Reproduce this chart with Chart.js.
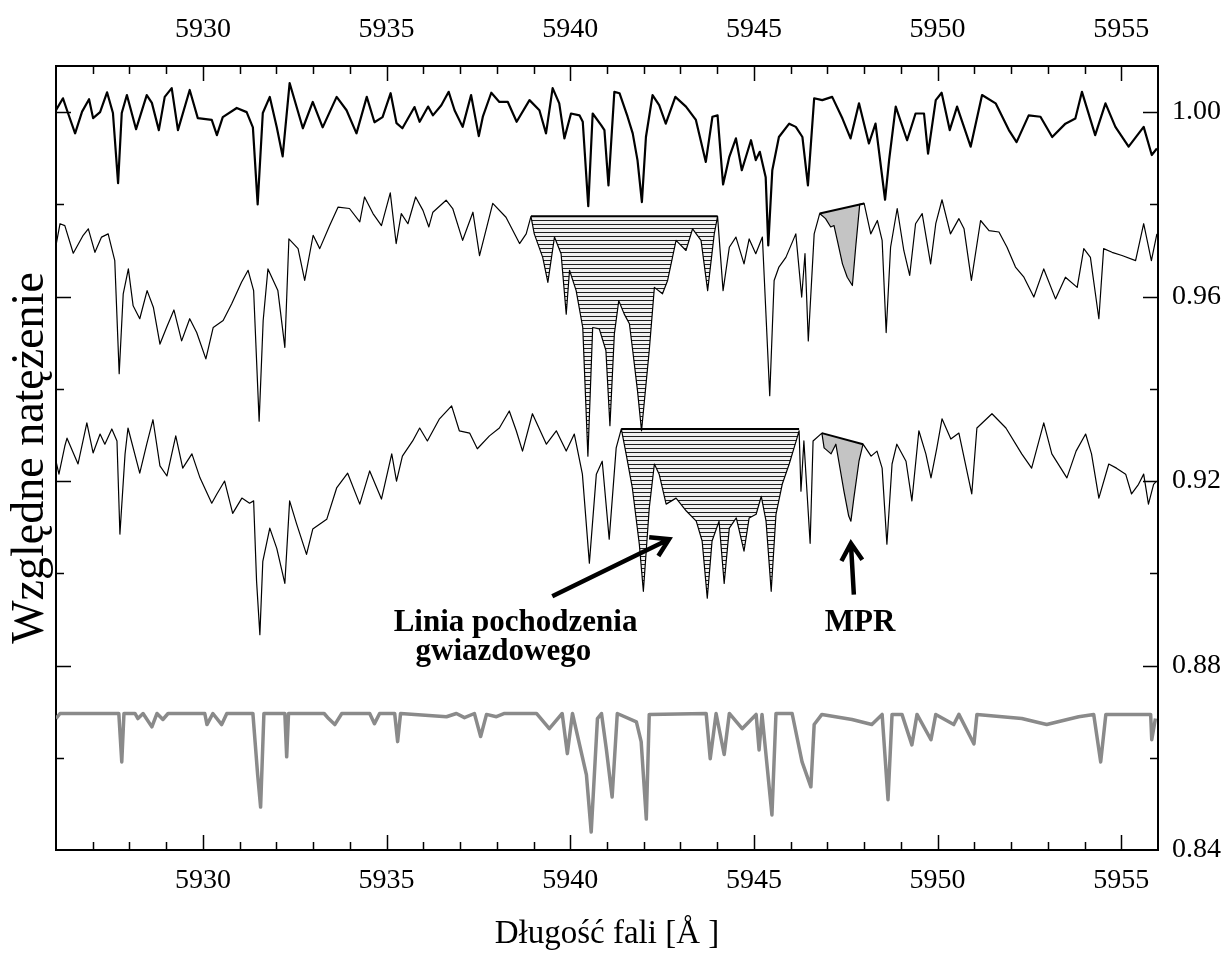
<!DOCTYPE html>
<html>
<head>
<meta charset="utf-8">
<script src="https://cdn.jsdelivr.net/npm/chart.js@4.4.1/dist/chart.umd.min.js"></script>
<style>
  html, body { margin: 0; padding: 0; background: #fff; }
  #wrap { width: 1230px; height: 956px; }
</style>
</head>
<body>
<div id="wrap"><canvas id="widmo" width="1230" height="956"></canvas></div>
<script>
const X_MIN = 5926;
const X_MAX = 5956;
const Y_MIN = 0.84;
const Y_MAX = 1.01;
const X_LABELS = [5930, 5935, 5940, 5945, 5950, 5955];
const Y_LABELS = [0.84, 0.88, 0.92, 0.96, 1.00];

// widmo gorne (gruba linia)
const topWave = [5926.00, 5926.19, 5926.30, 5926.52, 5926.71, 5926.90, 5927.01, 5927.20, 5927.39, 5927.55,
    5927.69, 5927.79, 5927.93, 5928.18, 5928.47, 5928.61, 5928.80, 5928.96, 5929.15, 5929.32,
    5929.64, 5929.86, 5930.24, 5930.38, 5930.54, 5930.92, 5931.19, 5931.36, 5931.49, 5931.63,
    5931.82, 5932.01, 5932.17, 5932.36, 5932.72, 5932.99, 5933.26, 5933.64, 5933.91, 5934.18,
    5934.46, 5934.67, 5934.89, 5935.11, 5935.27, 5935.43, 5935.76, 5935.90, 5936.13, 5936.26,
    5936.49, 5936.69, 5936.85, 5937.07, 5937.30, 5937.51, 5937.62, 5937.85, 5938.07, 5938.30,
    5938.54, 5938.89, 5939.16, 5939.34, 5939.52, 5939.70, 5939.84, 5940.02, 5940.25, 5940.34,
    5940.49, 5940.61, 5940.84, 5940.93, 5941.04, 5941.20, 5941.34, 5941.56, 5941.70, 5941.83,
    5941.95, 5942.06, 5942.24, 5942.42, 5942.60, 5942.86, 5943.15, 5943.42, 5943.69, 5943.87,
    5944.01, 5944.16, 5944.33, 5944.51, 5944.67, 5944.92, 5945.05, 5945.16, 5945.32, 5945.39,
    5945.50, 5945.68, 5945.96, 5946.14, 5946.32, 5946.47, 5946.64, 5946.86, 5947.13, 5947.41,
    5947.63, 5947.86, 5948.13, 5948.31, 5948.57, 5948.68, 5948.86, 5949.17, 5949.40, 5949.63,
    5949.74, 5949.95, 5950.11, 5950.33, 5950.53, 5950.90, 5951.21, 5951.58, 5951.94, 5952.15,
    5952.48, 5952.80, 5953.12, 5953.48, 5953.75, 5953.93, 5954.29, 5954.57, 5954.84, 5955.20,
    5955.61, 5955.83, 5955.97];
const topFlux = [1.0004, 1.0030, 1.0004, 0.9954, 1.0001, 1.0028, 0.9987, 1.0000, 1.0043, 0.9998,
    0.9846, 0.9998, 1.0037, 0.9963, 1.0037, 1.0020, 0.9961, 1.0033, 1.0052, 0.9961,
    1.0048, 0.9987, 0.9983, 0.9950, 0.9989, 1.0009, 1.0000, 0.9967, 0.9800, 0.9998,
    1.0033, 0.9967, 0.9904, 1.0063, 0.9965, 1.0022, 0.9967, 1.0033, 1.0004, 0.9954,
    1.0033, 0.9978, 0.9989, 1.0041, 0.9976, 0.9965, 1.0011, 0.9979, 1.0012, 0.9993,
    1.0015, 1.0044, 1.0004, 0.9968, 1.0037, 0.9948, 0.9990, 1.0042, 1.0022, 1.0022,
    0.9979, 1.0026, 1.0004, 0.9954, 1.0052, 1.0019, 0.9943, 0.9997, 0.9993, 0.9979,
    0.9796, 0.9997, 0.9972, 0.9961, 0.9841, 1.0044, 1.0041, 0.9990, 0.9954, 0.9896,
    0.9805, 0.9946, 1.0037, 1.0015, 0.9975, 1.0033, 1.0012, 0.9983, 0.9892, 0.9990,
    0.9993, 0.9843, 0.9903, 0.9943, 0.9874, 0.9939, 0.9896, 0.9914, 0.9859, 0.9711,
    0.9874, 0.9946, 0.9975, 0.9968, 0.9946, 0.9841, 1.0030, 1.0026, 1.0033, 0.9986,
    0.9943, 1.0019, 0.9932, 0.9975, 0.9810, 0.9896, 1.0012, 0.9939, 0.9997, 0.9997,
    0.9910, 1.0026, 1.0042, 0.9961, 1.0012, 0.9925, 1.0037, 1.0019, 0.9961, 0.9935,
    0.9993, 0.9990, 0.9946, 0.9975, 0.9986, 1.0044, 0.9950, 1.0019, 0.9968, 0.9925,
    0.9968, 0.9907, 0.9921];

// widmo srodkowe
const midWave = [5926.00, 5926.11, 5926.24, 5926.47, 5926.74, 5926.88, 5927.06, 5927.24, 5927.42, 5927.60,
    5927.72, 5927.83, 5927.97, 5928.10, 5928.28, 5928.48, 5928.65, 5928.83, 5929.01, 5929.21,
    5929.42, 5929.64, 5929.83, 5930.08, 5930.28, 5930.55, 5930.78, 5931.05, 5931.23, 5931.38,
    5931.53, 5931.64, 5931.77, 5932.04, 5932.23, 5932.34, 5932.59, 5932.77, 5933.00, 5933.18,
    5933.45, 5933.68, 5933.99, 5934.27, 5934.40, 5934.63, 5934.86, 5935.10, 5935.26, 5935.40,
    5935.58, 5935.79, 5935.99, 5936.15, 5936.26, 5936.62, 5936.80, 5937.07, 5937.35, 5937.53,
    5937.89, 5938.25, 5938.62, 5938.80, 5938.93, 5939.02, 5939.25, 5939.39, 5939.57, 5939.75,
    5939.89, 5939.98, 5940.16, 5940.34, 5940.48, 5940.61, 5940.79, 5940.97, 5941.08, 5941.20,
    5941.32, 5941.47, 5941.61, 5941.70, 5941.83, 5941.94, 5942.15, 5942.29, 5942.51, 5942.65,
    5942.88, 5943.15, 5943.33, 5943.56, 5943.74, 5943.92, 5944.01, 5944.16, 5944.33, 5944.51,
    5944.73, 5944.87, 5945.05, 5945.23, 5945.43, 5945.55, 5945.68, 5945.87, 5946.14, 5946.30,
    5946.39, 5946.48, 5946.64, 5946.79, 5946.95, 5947.09, 5947.18, 5947.27, 5947.41, 5947.54,
    5947.68, 5947.77, 5947.88, 5948.00, 5948.18, 5948.36, 5948.49, 5948.60, 5948.72, 5948.90,
    5949.08, 5949.24, 5949.40, 5949.58, 5949.81, 5949.95, 5950.12, 5950.35, 5950.58, 5950.72,
    5950.92, 5951.17, 5951.40, 5951.67, 5951.89, 5952.12, 5952.35, 5952.62, 5952.89, 5953.21,
    5953.48, 5953.80, 5953.98, 5954.16, 5954.39, 5954.52, 5954.75, 5955.02, 5955.39, 5955.61,
    5955.82, 5955.97];
const midFlux = [0.9711, 0.9758, 0.9754, 0.9694, 0.9733, 0.9747, 0.9696, 0.9729, 0.9736, 0.9678,
    0.9433, 0.9606, 0.9660, 0.9580, 0.9552, 0.9613, 0.9577, 0.9497, 0.9533, 0.9571,
    0.9504, 0.9552, 0.9522, 0.9465, 0.9533, 0.9548, 0.9584, 0.9631, 0.9657, 0.9613,
    0.9330, 0.9548, 0.9660, 0.9613, 0.9490, 0.9725, 0.9704, 0.9635, 0.9733, 0.9704,
    0.9754, 0.9794, 0.9791, 0.9762, 0.9816, 0.9780, 0.9754, 0.9825, 0.9715, 0.9780,
    0.9758, 0.9816, 0.9787, 0.9751, 0.9783, 0.9809, 0.9791, 0.9722, 0.9783, 0.9689,
    0.9802, 0.9772, 0.9715, 0.9736, 0.9774, 0.9736, 0.9685, 0.9631, 0.9729, 0.9693,
    0.9562, 0.9657, 0.9613, 0.9533, 0.9254, 0.9533, 0.9530, 0.9483, 0.9320, 0.9519,
    0.9591, 0.9562, 0.9541, 0.9483, 0.9396, 0.9309, 0.9483, 0.9620, 0.9606, 0.9635,
    0.9722, 0.9700, 0.9747, 0.9722, 0.9613, 0.9736, 0.9774, 0.9613, 0.9707, 0.9729,
    0.9671, 0.9725, 0.9693, 0.9729, 0.9385, 0.9635, 0.9664, 0.9685, 0.9736, 0.9599,
    0.9693, 0.9504, 0.9736, 0.9780, 0.9769, 0.9751, 0.9754, 0.9722, 0.9671, 0.9642,
    0.9624, 0.9707, 0.9800, 0.9802, 0.9736, 0.9765, 0.9722, 0.9522, 0.9707, 0.9791,
    0.9700, 0.9646, 0.9758, 0.9780, 0.9671, 0.9758, 0.9810, 0.9736, 0.9769, 0.9747,
    0.9635, 0.9765, 0.9743, 0.9740, 0.9707, 0.9664, 0.9642, 0.9599, 0.9660, 0.9595,
    0.9642, 0.9620, 0.9704, 0.9685, 0.9552, 0.9704, 0.9696, 0.9689, 0.9678, 0.9758,
    0.9678, 0.9736];

// widmo dolne
const lowWave = [5926.00, 5926.08, 5926.24, 5926.30, 5926.60, 5926.84, 5927.01, 5927.20, 5927.33, 5927.52,
    5927.66, 5927.74, 5927.88, 5927.96, 5928.28, 5928.47, 5928.64, 5928.83, 5929.02, 5929.26,
    5929.45, 5929.70, 5929.92, 5930.24, 5930.38, 5930.59, 5930.81, 5931.06, 5931.27, 5931.38,
    5931.46, 5931.55, 5931.63, 5931.82, 5932.01, 5932.23, 5932.36, 5932.55, 5932.82, 5932.99,
    5933.37, 5933.64, 5933.94, 5934.27, 5934.54, 5934.86, 5935.14, 5935.27, 5935.43, 5935.71,
    5935.90, 5936.11, 5936.44, 5936.77, 5936.98, 5937.26, 5937.47, 5937.80, 5938.07, 5938.34,
    5938.53, 5938.70, 5938.97, 5939.35, 5939.62, 5939.89, 5940.11, 5940.33, 5940.52, 5940.71,
    5940.87, 5941.06, 5941.25, 5941.39, 5941.52, 5941.69, 5941.88, 5941.99, 5942.15, 5942.29,
    5942.42, 5942.61, 5942.88, 5943.16, 5943.43, 5943.59, 5943.73, 5943.86, 5944.05, 5944.19,
    5944.33, 5944.52, 5944.73, 5944.87, 5945.06, 5945.20, 5945.33, 5945.47, 5945.60, 5945.77,
    5945.96, 5946.15, 5946.23, 5946.28, 5946.36, 5946.53, 5946.61, 5946.85, 5946.91, 5947.10,
    5947.23, 5947.31, 5947.45, 5947.58, 5947.64, 5947.72, 5947.86, 5947.97, 5948.19, 5948.35,
    5948.49, 5948.62, 5948.76, 5948.89, 5949.14, 5949.30, 5949.49, 5949.68, 5949.82, 5949.98,
    5950.12, 5950.36, 5950.58, 5950.93, 5951.07, 5951.48, 5951.86, 5952.29, 5952.56, 5952.89,
    5953.11, 5953.52, 5953.77, 5954.03, 5954.19, 5954.39, 5954.66, 5954.87, 5955.12, 5955.28,
    5955.47, 5955.61, 5955.74, 5955.88, 5955.96];
const lowFlux = [0.9243, 0.9215, 0.9276, 0.9293, 0.9237, 0.9326, 0.9261, 0.9302, 0.9280, 0.9313,
    0.9287, 0.9085, 0.9259, 0.9315, 0.9217, 0.9280, 0.9333, 0.9233, 0.9211, 0.9298,
    0.9228, 0.9259, 0.9207, 0.9152, 0.9172, 0.9200, 0.9130, 0.9163, 0.9152, 0.9157,
    0.8983, 0.8867, 0.9026, 0.9098, 0.9054, 0.8978, 0.9157, 0.9107, 0.9041, 0.9096,
    0.9117, 0.9185, 0.9217, 0.9150, 0.9222, 0.9161, 0.9259, 0.9200, 0.9254, 0.9287,
    0.9315, 0.9287, 0.9335, 0.9363, 0.9309, 0.9304, 0.9270, 0.9298, 0.9315, 0.9352,
    0.9309, 0.9265, 0.9346, 0.9280, 0.9309, 0.9265, 0.9302, 0.9215, 0.9022, 0.9215,
    0.9243, 0.9074, 0.9272, 0.9313, 0.9259, 0.9185, 0.9063, 0.8961, 0.9141, 0.9237,
    0.9215, 0.9150, 0.9163, 0.9135, 0.9113, 0.9070, 0.8946, 0.9070, 0.9113, 0.8978,
    0.9098, 0.9120, 0.9048, 0.9120, 0.9128, 0.9167, 0.9113, 0.8961, 0.9128, 0.9193,
    0.9237, 0.9287, 0.9309, 0.9178, 0.9287, 0.9065, 0.9287, 0.9304, 0.9272, 0.9259,
    0.9280, 0.9243, 0.9178, 0.9124, 0.9113, 0.9163, 0.9243, 0.9280, 0.9254, 0.9265,
    0.9228, 0.9063, 0.9237, 0.9280, 0.9243, 0.9157, 0.9309, 0.9259, 0.9207, 0.9272,
    0.9335, 0.9291, 0.9304, 0.9172, 0.9315, 0.9346, 0.9315, 0.9259, 0.9228, 0.9326,
    0.9259, 0.9207, 0.9265, 0.9302, 0.9259, 0.9163, 0.9237, 0.9228, 0.9215, 0.9172,
    0.9193, 0.9215, 0.9150, 0.9193, 0.9200];

// widmo telluryczne (szare)
const telWave = [5926.00, 5926.11, 5927.71, 5927.79, 5927.85, 5928.15, 5928.23, 5928.37, 5928.61, 5928.75,
    5928.91, 5929.05, 5930.05, 5930.11, 5930.27, 5930.51, 5930.65, 5931.36, 5931.49, 5931.57,
    5931.66, 5932.23, 5932.28, 5932.33, 5933.30, 5933.42, 5933.59, 5933.78, 5934.54, 5934.67,
    5934.81, 5935.22, 5935.30, 5935.38, 5936.63, 5936.90, 5937.12, 5937.39, 5937.56, 5937.72,
    5937.99, 5938.21, 5939.08, 5939.43, 5939.78, 5939.92, 5940.06, 5940.44, 5940.57, 5940.74,
    5940.85, 5940.98, 5941.14, 5941.28, 5941.80, 5941.93, 5942.07, 5942.15, 5943.70, 5943.81,
    5943.97, 5944.19, 5944.33, 5944.68, 5945.06, 5945.14, 5945.22, 5945.49, 5945.60, 5946.04,
    5946.31, 5946.55, 5946.64, 5946.85, 5947.67, 5948.21, 5948.49, 5948.65, 5948.76, 5949.03,
    5949.30, 5949.44, 5949.82, 5949.95, 5950.44, 5950.58, 5950.99, 5951.07, 5952.29, 5952.97,
    5953.84, 5954.25, 5954.44, 5954.58, 5955.80, 5955.83, 5955.93];
const telFlux = [0.8685, 0.8696, 0.8696, 0.8591, 0.8696, 0.8696, 0.8685, 0.8696, 0.8667, 0.8696,
    0.8683, 0.8696, 0.8696, 0.8672, 0.8696, 0.8672, 0.8696, 0.8696, 0.8563, 0.8493,
    0.8696, 0.8696, 0.8602, 0.8696, 0.8696, 0.8685, 0.8672, 0.8696, 0.8696, 0.8674,
    0.8696, 0.8696, 0.8635, 0.8696, 0.8689, 0.8696, 0.8687, 0.8696, 0.8646, 0.8694,
    0.8689, 0.8696, 0.8696, 0.8663, 0.8696, 0.8609, 0.8696, 0.8563, 0.8439, 0.8685,
    0.8696, 0.8620, 0.8515, 0.8696, 0.8678, 0.8635, 0.8467, 0.8694, 0.8696, 0.8598,
    0.8696, 0.8607, 0.8696, 0.8663, 0.8694, 0.8617, 0.8694, 0.8476, 0.8696, 0.8696,
    0.8591, 0.8537, 0.8672, 0.8694, 0.8683, 0.8672, 0.8694, 0.8509, 0.8694, 0.8694,
    0.8628, 0.8694, 0.8639, 0.8694, 0.8672, 0.8694, 0.8630, 0.8694, 0.8685, 0.8672,
    0.8689, 0.8694, 0.8591, 0.8694, 0.8694, 0.8639, 0.8685];

// zakreskowane linie gwiazdowe i pasma MPR
const hatchMidRange = [5938.93, 5944.01];
const hatchMidLevel = 0.9774;
const hatchLowRange = [5941.39, 5946.23];
const hatchLowLevel = 0.9313;
const mprMidWave = [5946.79, 5948.00];
const mprMidLevel = [0.9780, 0.9802];
const mprLowWave = [5946.85, 5947.97];
const mprLowLevel = [0.9304, 0.9280];

// opisy i strzalki (wspolrzedne danych)
const starLabel = ["Linia pochodzenia", "gwiazdowego"];
const starLabelPos = [[5938.51, 0.8874], [5938.18, 0.8813]];
const starArrow = [[5939.51, 0.8950], [5942.69, 0.9074]];
const mprLabel = "MPR";
const mprLabelPos = [5947.89, 0.8874];
const mprArrow = [[5947.72, 0.8954], [5947.64, 0.9065]];

const SERIF = '"Liberation Serif", "Times New Roman", serif';

function points(wave, flux) {
    return wave.map((x, i) => ({ x, y: flux[i] }));
}

function slice(wave, flux, range) {
    return points(wave, flux).filter(p => p.x >= range[0] && p.x <= range[1]);
}

function hatchPattern(ctx) {
    const tile = document.createElement("canvas");
    tile.width = 8;
    tile.height = 4;
    const g = tile.getContext("2d");
    g.fillStyle = "#f0f0f0";
    g.fillRect(0, 0, 8, 4);
    g.fillStyle = "#1e1e1e";
    g.fillRect(0, 0, 8, 1);
    return ctx.createPattern(tile, "repeat");
}

const frameTicks = {
    id: "frameTicks",
    afterDatasetsDraw(chart) {
        const { ctx, chartArea: a, scales } = chart;
        ctx.save();
        ctx.strokeStyle = "#000";
        ctx.lineWidth = 1.5;
        ctx.beginPath();
        scales.x.ticks.forEach(t => {
            if (t.value <= X_MIN || t.value >= X_MAX) return;
            const px = Math.round(scales.x.getPixelForValue(t.value)) + 0.5;
            const len = t.value % 5 === 0 ? 15 : 8;
            ctx.moveTo(px, a.top);
            ctx.lineTo(px, a.top + len);
            ctx.moveTo(px, a.bottom);
            ctx.lineTo(px, a.bottom - len);
        });
        scales.y.ticks.forEach(t => {
            const hundredths = Math.round(t.value * 100);
            if (hundredths <= Y_MIN * 100 || hundredths >= Y_MAX * 100) return;
            const py = Math.round(scales.y.getPixelForValue(t.value)) + 0.5;
            const len = hundredths % 4 === 0 ? 15 : 8;
            ctx.moveTo(a.left, py);
            ctx.lineTo(a.left + len, py);
            ctx.moveTo(a.right, py);
            ctx.lineTo(a.right - len, py);
        });
        ctx.stroke();
        ctx.restore();
    }
};

function drawArrow(ctx, x0, y0, x1, y1) {
    const ang = Math.atan2(y1 - y0, x1 - x0);
    const head = 20;
    ctx.beginPath();
    ctx.moveTo(x0, y0);
    ctx.lineTo(x1, y1);
    ctx.moveTo(x1 - head * Math.cos(ang - 0.55), y1 - head * Math.sin(ang - 0.55));
    ctx.lineTo(x1, y1);
    ctx.lineTo(x1 - head * Math.cos(ang + 0.55), y1 - head * Math.sin(ang + 0.55));
    ctx.stroke();
}

const annotations = {
    id: "annotations",
    afterDraw(chart) {
        const { ctx, scales: { x, y } } = chart;
        const px = p => [x.getPixelForValue(p[0]), y.getPixelForValue(p[1])];
        ctx.save();
        ctx.strokeStyle = "#000";
        ctx.lineWidth = 4.5;
        ctx.lineJoin = "miter";
        const s0 = px(starArrow[0]), s1 = px(starArrow[1]);
        drawArrow(ctx, s0[0], s0[1], s1[0], s1[1]);
        const m0 = px(mprArrow[0]), m1 = px(mprArrow[1]);
        drawArrow(ctx, m0[0], m0[1], m1[0], m1[1]);

        ctx.fillStyle = "#000";
        ctx.font = `bold 31px ${SERIF}`;
        ctx.textAlign = "center";
        ctx.textBaseline = "alphabetic";
        starLabel.forEach((text, i) => {
            const p = px(starLabelPos[i]);
            ctx.fillText(text, p[0], p[1]);
        });
        const mp = px(mprLabelPos);
        ctx.fillText(mprLabel, mp[0], mp[1]);
        ctx.restore();
    }
};

function lineSet(data, color, width) {
    return {
        data,
        borderColor: color,
        borderWidth: width,
        pointRadius: 0,
        tension: 0,
        fill: false,
        borderJoinStyle: "round"
    };
}

const canvas = document.getElementById("widmo");
const pattern = hatchPattern(canvas.getContext("2d"));

const xTicks = {
    stepSize: 1,
    autoSkip: false,
    maxRotation: 0,
    includeBounds: false,
    color: "#000",
    font: { family: SERIF, size: 28 },
    callback: v => (X_LABELS.includes(v) ? String(v) : "")
};

const yTicks = {
    stepSize: 0.02,
    autoSkip: false,
    includeBounds: false,
    color: "#000",
    font: { family: SERIF, size: 28 },
    callback: v => {
        const hit = Y_LABELS.find(l => Math.abs(l - v) < 1e-6);
        return hit === undefined ? "" : hit.toFixed(2);
    }
};

const frame = { display: true, color: "#000", width: 2 };
const noGrid = { display: false, drawTicks: false };

new Chart(canvas, {
    type: "line",
    data: {
        datasets: [
            // 0,1: zakreskowane obszary
            { ...lineSet(slice(midWave, midFlux, hatchMidRange), "rgba(0,0,0,0)", 0), fill: { value: hatchMidLevel }, backgroundColor: pattern },
            { ...lineSet(slice(lowWave, lowFlux, hatchLowRange), "rgba(0,0,0,0)", 0), fill: { value: hatchLowLevel }, backgroundColor: pattern },
            // 2-5: pasma MPR
            { ...lineSet(slice(midWave, midFlux, mprMidWave), "rgba(0,0,0,0)", 0), fill: 3, backgroundColor: "#c4c4c4" },
            lineSet(points(mprMidWave, mprMidLevel), "#000", 2),
            { ...lineSet(slice(lowWave, lowFlux, mprLowWave), "rgba(0,0,0,0)", 0), fill: 5, backgroundColor: "#c4c4c4" },
            lineSet(points(mprLowWave, mprLowLevel), "#000", 2),
            // 6,7: gorne krawedzie kreskowania
            lineSet(points(hatchMidRange, [hatchMidLevel, hatchMidLevel]), "#000", 2),
            lineSet(points(hatchLowRange, [hatchLowLevel, hatchLowLevel]), "#000", 2),
            // 8-11: widma
            lineSet(points(topWave, topFlux), "#000", 2.2),
            lineSet(points(midWave, midFlux), "#000", 1.2),
            lineSet(points(lowWave, lowFlux), "#000", 1.2),
            lineSet(points(telWave, telFlux), "#8a8a8a", 3.5)
        ]
    },
    options: {
        responsive: false,
        devicePixelRatio: 1,
        animation: false,
        layout: { padding: 0 },
        plugins: {
            legend: { display: false },
            tooltip: { enabled: false },
            filler: { drawTime: "beforeDatasetsDraw", propagate: false }
        },
        scales: {
            x: {
                type: "linear",
                position: "bottom",
                min: X_MIN,
                max: X_MAX,
                grid: noGrid,
                border: frame,
                ticks: { ...xTicks, padding: 14 },
                title: {
                    display: true,
                    text: "Długość fali [Å ]",
                    color: "#000",
                    font: { family: SERIF, size: 33 },
                    padding: { top: 0, bottom: 2 }
                },
                afterFit: s => { s.height = 106; }
            },
            x2: {
                type: "linear",
                position: "top",
                min: X_MIN,
                max: X_MAX,
                grid: noGrid,
                border: frame,
                ticks: { ...xTicks, padding: 20 },
                afterFit: s => { s.height = 66; }
            },
            y: {
                type: "linear",
                position: "left",
                min: Y_MIN,
                max: Y_MAX,
                grid: noGrid,
                border: frame,
                ticks: { ...yTicks, display: false },
                title: {
                    display: true,
                    text: "Względne natężenie",
                    color: "#000",
                    font: { family: SERIF, size: 46 },
                    padding: { top: 3, bottom: 0 }
                },
                afterFit: s => { s.width = 56; }
            },
            y2: {
                type: "linear",
                position: "right",
                min: Y_MIN,
                max: Y_MAX,
                grid: noGrid,
                border: frame,
                ticks: { ...yTicks, padding: 14 },
                afterFit: s => { s.width = 72; }
            }
        }
    },
    plugins: [frameTicks, annotations]
});
</script>
</body>
</html>
